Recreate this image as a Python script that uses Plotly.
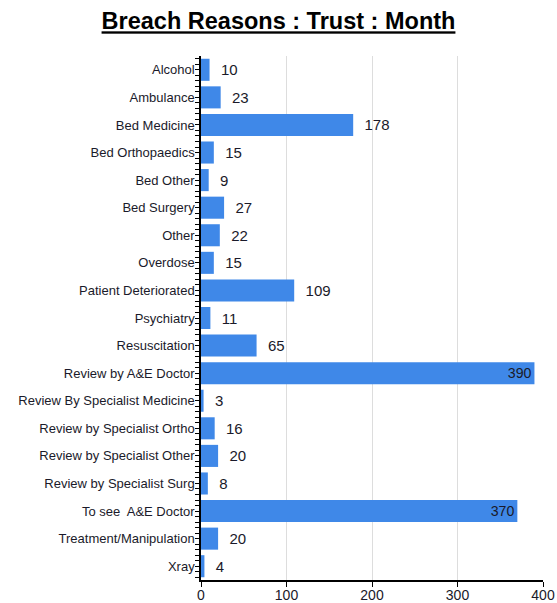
import plotly.graph_objects as go

categories = ["Alcohol", "Ambulance", "Bed Medicine", "Bed Orthopaedics", "Bed Other",
              "Bed Surgery", "Other", "Overdose", "Patient Deteriorated", "Psychiatry",
              "Resuscitation", "Review by A&E Doctor", "Review By Specialist Medicine",
              "Review by Specialist Ortho", "Review by Specialist Other",
              "Review by Specialist Surg", "To see  A&E Doctor", "Treatment/Manipulation", "Xray"]
values = [10, 23, 178, 15, 9, 27, 22, 15, 109, 11, 65, 390, 3, 16, 20, 8, 370, 20, 4]
x_ticks = [0, 100, 200, 300, 400]

positions = list(range(len(categories)))
textpos = ["inside" if v > 300 else "outside" for v in values]
texts = [str(v) if v > 300 else "  " + str(v) for v in values]

fig = go.Figure(go.Bar(
    x=values, y=positions, orientation="h",
    marker=dict(color="#3F88E8", line=dict(width=0)),
    width=0.8,
    text=texts, textposition=textpos,
    insidetextanchor="end",
    textfont=dict(family="Liberation Sans, Arial", size=15, color="#1a1a2a"),
    cliponaxis=False,
))

fig.update_layout(
    width=557, height=603,
    margin=dict(l=201, r=14, t=56, b=23, autoexpand=False),
    paper_bgcolor="white", plot_bgcolor="white",
    showlegend=False,
    title=dict(text="<b><u>Breach Reasons : Trust : Month</u></b>",
               x=0.5, xanchor="center", y=0.965, yanchor="middle",
               font=dict(family="Liberation Sans, Arial", size=23.5, color="#000000")),
    uniformtext=dict(mode=False),
)

fig.update_xaxes(
    range=[0, 400], tickvals=x_ticks, ticktext=[str(t) for t in x_ticks],
    showgrid=True, gridcolor="#dddddd", gridwidth=1,
    showline=True, linecolor="black", linewidth=1.5,
    ticks="outside", ticklen=5, tickcolor="black",
    tickfont=dict(family="Liberation Sans, Arial", size=14, color="#1a1a2a"),
    ticklabelstandoff=-4,
    zeroline=False, fixedrange=True, automargin=False,
)

fig.update_yaxes(
    range=[len(categories) - 0.5, -0.5],
    tickvals=positions, ticktext=categories,
    showgrid=False, zeroline=False,
    showline=True, linecolor="black", linewidth=1.5,
    ticks="outside", ticklen=4, tickcolor="black",
    tickfont=dict(family="Liberation Sans, Arial", size=13, color="#1a1a2a"),
    minor=dict(dtick=0.2, tick0=0, ticks="outside", ticklen=4, tickcolor="black", showgrid=False),
    ticklabelstandoff=-2, automargin=False,
)

fig.write_html("out.html")
